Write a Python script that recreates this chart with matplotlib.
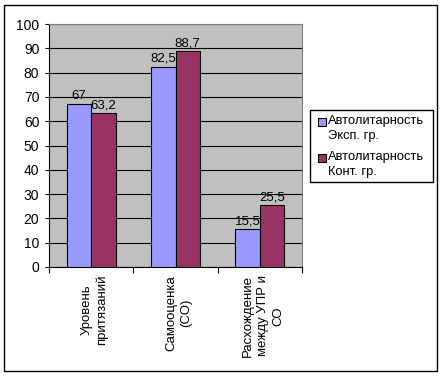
import numpy as np
import matplotlib
matplotlib.use('Agg')
from matplotlib import pyplot as plt
from matplotlib.patches import Rectangle

plt.rcParams['font.family'] = ['Liberation Sans', 'DejaVu Sans']

# data
categories = ['Уровень\nпритязаний', 'Самооценка\n(СО)', 'Расхождение\nмежду УПР и\nСО']
exp_vals = [67, 82.5, 15.5]
cont_vals = [63.2, 88.7, 25.5]
exp_labels = ['67', '82,5', '15,5']
cont_labels = ['63,2', '88,7', '25,5']
series_names = ['Автолитарность\nЭксп. гр.', 'Автолитарность\nКонт. гр.']
colors = ['#9999FF', '#993366']

W, H = 442, 376
fig = plt.figure(figsize=(W/100, H/100), dpi=100)

def px(x, y):
    # pixel coords (top-left origin) -> figure fraction
    return x / W, 1 - y / H

# outer chart border
fig.patches.append(Rectangle(px(4, 371), 433/W, 366/H, transform=fig.transFigure,
                             fill=False, edgecolor='black', lw=1))

ax = fig.add_axes([49/W, 109/H, 253/W, 243/H])
ax.set_facecolor('#C0C0C0')

x = np.arange(len(categories))
w = 0.29
b1 = ax.bar(x - w/2, exp_vals, w, color=colors[0], edgecolor='black', lw=0.8, zorder=3)
b2 = ax.bar(x + w/2, cont_vals, w, color=colors[1], edgecolor='black', lw=0.8, zorder=3)

for rect, t in zip(b1, exp_labels):
    ax.text(rect.get_x() + rect.get_width()/2, rect.get_height() + 0.8, t, ha='center', va='bottom', fontsize=9.5, zorder=4)
for rect, t in zip(b2, cont_labels):
    ax.text(rect.get_x() + rect.get_width()/2, rect.get_height() + 0.8, t, ha='center', va='bottom', fontsize=9.5, zorder=4)

ax.set_ylim(0, 100)
ax.set_xlim(-0.5, 2.5)
ax.set_yticks(range(0, 101, 10))
ax.yaxis.grid(True, color='black', lw=0.8, zorder=1)
ax.tick_params(axis='y', labelsize=10, length=3, direction='out', pad=4)

ax.set_xticks([-0.5, 0.5, 1.5, 2.5])
ax.set_xticklabels([])
ax.tick_params(axis='x', length=4, direction='out')
for i, c in enumerate(categories):
    ax.text(i + 0.04, -3.2, c, rotation=90, ha='center', va='top', multialignment='center',
            fontsize=9.5, linespacing=1.35)

for s in ['top', 'right']:
    ax.spines[s].set_color('#808080')
for s in ['left', 'bottom']:
    ax.spines[s].set_color('black')

# legend drawn by hand (marker aligned with first text line, like the original)
fig.patches.append(Rectangle(px(310, 182), 123/W, 72/H, transform=fig.transFigure,
                             fill=True, facecolor='white', edgecolor='black', lw=1))
for k, (name, col) in enumerate(zip(series_names, colors)):
    top = 115 + k * 36
    fig.patches.append(Rectangle(px(318, top + 11), 8/W, 8/H, transform=fig.transFigure,
                                 facecolor=col, edgecolor='black', lw=0.8))
    fig.text(*px(328, top), name, ha='left', va='top', fontsize=9.25, linespacing=1.3)

plt.savefig('out.png', dpi=100)
